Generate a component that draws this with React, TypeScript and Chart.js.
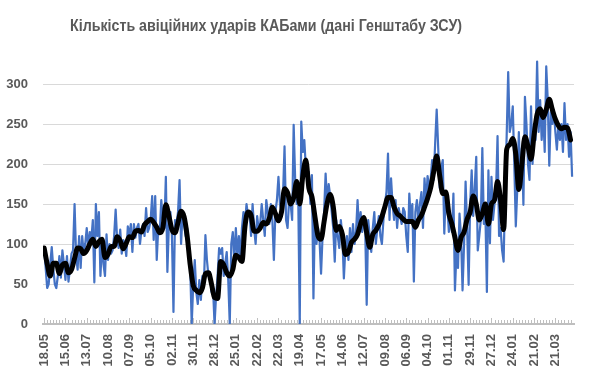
import React, { useEffect, useRef } from 'react';
import { Chart, registerables } from 'chart.js';

Chart.register(...registerables);

const TITLE = 'Кількість авіційних ударів КАБами (дані Генштабу ЗСУ)';

const TICK_LABELS = [
  '18.05', '15.06', '13.07', '10.08', '07.09', '05.10', '02.11', '30.11', '28.12',
  '25.01', '22.02', '22.03', '19.04', '17.05', '14.06', '12.07', '09.08', '06.09',
  '04.10', '01.11', '29.11', '27.12', '24.01', '21.02', '21.03',
];
const LABEL_STEP_DAYS = 28;
const Y_TICKS = [0, 50, 100, 150, 200, 250, 300];

// daily strikes, read every 2nd day
const DAILY_STEP_DAYS = 2;
const DAILY_STRIKES = [
  95, 70, 45, 50, 75, 96, 70, 50, 45, 60,
  85, 58, 92, 75, 55, 85, 53, 70, 88, 92,
  150, 85, 68, 110, 70, 110, 88, 100, 120, 95,
  115, 105, 130, 52, 150, 110, 140, 60, 100, 75,
  60, 112, 80, 100, 88, 92, 110, 143, 105, 95,
  118, 88, 105, 100, 85, 122, 110, 125, 90, 125,
  108, 120, 125, 100, 118, 125, 110, 145, 115, 120,
  130, 160, 105, 160, 80, 120, 115, 155, 130, 120,
  184, 65, 125, 140, 110, 15, 130, 125, 140, 180,
  100, 140, 125, 110, 120, 95, 70, 0, 50, 80,
  40, 25, 55, 30, 60, 48, 111, 80, 60, 65,
  40, 45, 0, 35, 60, 95, 88, 95, 60, 75,
  90, 55, 0, 100, 115, 80, 120, 85, 110, 80,
  120, 140, 125, 150, 135, 140, 110, 150, 120, 100,
  135, 118, 125, 150, 130, 110, 155, 140, 125, 150,
  130, 80, 140, 155, 184, 150, 140, 160, 222, 130,
  120, 155, 150, 130, 249, 180, 150, 160, 0, 253,
  215, 230, 195, 180, 190, 150, 186, 32, 140, 100,
  120, 105, 63, 110, 140, 188, 150, 175, 160, 140,
  120, 78, 130, 110, 95, 130, 110, 57, 95, 110,
  80, 120, 90, 125, 100, 115, 155, 115, 140, 115,
  125, 120, 24, 130, 110, 90, 120, 140, 100, 120,
  135, 110, 100, 130, 150, 165, 213, 130, 182, 150,
  130, 155, 120, 145, 135, 125, 145, 140, 110, 90,
  163, 130, 150, 53, 140, 155, 130, 150, 165, 120,
  182, 150, 185, 170, 180, 205, 180, 226, 268, 220,
  170, 195, 205, 113, 165, 150, 115, 135, 115, 163,
  42, 90, 70, 138, 110, 42, 100, 178, 120, 49,
  150, 192, 135, 170, 209, 92, 110, 130, 220, 125,
  140, 40, 192, 101, 184, 130, 150, 165, 235, 110,
  120, 92, 78, 170, 235, 315, 240, 250, 272, 200,
  122, 170, 240, 170, 220, 149, 284, 250, 200, 180,
  272, 200, 250, 230, 328, 240, 280, 230, 265, 215,
  322, 280, 198, 265, 250, 267, 240, 218, 250, 230,
  250, 215, 276, 230, 250, 209, 240, 184,
];

// moving average (black line), read every 4th day
const AVG_STEP_DAYS = 4;
const MOVING_AVG = [
  95, 75, 60, 76, 76, 63, 74, 76, 64, 68,
  82, 95, 94, 88, 92, 100, 106, 97, 103, 106,
  83, 87, 97, 97, 109, 104, 94, 101, 109, 108,
  116, 117, 115, 124, 128, 131, 127, 121, 114, 120,
  149, 135, 118, 114, 127, 141, 134, 110, 74, 48,
  42, 39, 45, 63, 64, 50, 33, 32, 78, 74,
  64, 60, 68, 86, 83, 78, 122, 140, 136, 116,
  116, 120, 127, 125, 132, 146, 138, 129, 140, 169,
  164, 150, 158, 178, 150, 185, 205, 170, 159, 134,
  110, 106, 128, 151, 162, 147, 117, 122, 112, 87,
  90, 102, 106, 112, 125, 133, 114, 96, 112, 117,
  124, 134, 147, 158, 158, 146, 138, 135, 131, 128,
  128, 128, 121, 130, 136, 146, 157, 170, 190, 210,
  185, 163, 165, 138, 125, 108, 92, 108, 115, 131,
  140, 160, 150, 130, 138, 150, 125, 150, 155, 178,
  155, 118, 218, 224, 232, 212, 168, 200, 234, 222,
  206, 236, 262, 269, 258, 268, 281, 268, 256, 248,
  244, 246, 245, 230,
];

const MINOR_TICK_DAYS = 4;
const LAST_TICK_DAY = 692;
const FONT_FAMILY = '"Liberation Sans", Arial, sans-serif';
const TEXT_COLOR = '#595959';

const titlePlugin = {
  id: 'customTitle',
  afterDraw(chart: any) {
    const ctx = chart.ctx;
    ctx.save();
    ctx.font = `bold 16.5px ${FONT_FAMILY}`;
    const w = ctx.measureText(TITLE).width;
    const sx = Math.min(1, 392 / w);
    ctx.fillStyle = TEXT_COLOR;
    ctx.textAlign = 'center';
    ctx.textBaseline = 'alphabetic';
    ctx.translate(266, 31);
    ctx.scale(sx, 1);
    ctx.fillText(TITLE, 0, 0);
    ctx.restore();
  },
};

const minorTickPlugin = {
  id: 'minorTicks',
  beforeDatasetsDraw(chart: any) {
    const ctx = chart.ctx;
    const xs = chart.scales.x;
    const bottom = chart.chartArea.bottom - 1;
    ctx.save();
    ctx.strokeStyle = '#bfbfbf';
    ctx.lineWidth = 1;
    ctx.beginPath();
    for (let d = 0; d <= LAST_TICK_DAY; d += MINOR_TICK_DAYS) {
      const px = Math.round(xs.getPixelForValue(d)) + 0.5;
      const len = d % LABEL_STEP_DAYS === 0 ? 5 : 3;
      ctx.moveTo(px, bottom);
      ctx.lineTo(px, bottom - len);
    }
    ctx.stroke();
    ctx.restore();
  },
};

export default function App() {
  const ref = useRef<HTMLCanvasElement>(null);

  useEffect(() => {
    document.body.style.margin = '0';
    const dailyData = DAILY_STRIKES.map((v, i) => ({ x: i * DAILY_STEP_DAYS, y: v }));
    const avgData = MOVING_AVG.map((v, i) => ({ x: i * AVG_STEP_DAYS, y: v }));

    const chart = new Chart(ref.current as HTMLCanvasElement, {
      type: 'line',
      data: {
        datasets: [
          {
            label: 'Ковзне середнє',
            data: avgData,
            borderColor: '#000000',
            borderWidth: 5,
            pointRadius: 0,
            tension: 0.4,
            cubicInterpolationMode: 'monotone',
            borderJoinStyle: 'round',
            borderCapStyle: 'round',
            fill: false,
          },
          {
            label: 'Удари КАБами',
            data: dailyData,
            borderColor: '#4472C4',
            borderWidth: 2.2,
            pointRadius: 0,
            tension: 0,
            borderJoinStyle: 'round',
            fill: false,
          },
        ],
      },
      options: {
        responsive: false,
        animation: false,
        events: [],
        layout: { padding: { top: 60, right: 16, left: 0, bottom: 0 } },
        plugins: {
          legend: { display: false },
          title: { display: false },
          tooltip: { enabled: false },
        },
        scales: {
          x: {
            type: 'linear',
            min: -1.5,
            max: 696.5,
            afterBuildTicks: (s: any) => {
              s.ticks = TICK_LABELS.map((_, k) => ({ value: k * LABEL_STEP_DAYS }));
            },
            afterFit: (s: any) => {
              s.height = 52;
            },
            ticks: {
              autoSkip: false,
              minRotation: 90,
              maxRotation: 90,
              padding: 10,
              color: TEXT_COLOR,
              font: { family: FONT_FAMILY, size: 13, weight: 'bold' },
              callback: (v: any) => TICK_LABELS[Math.round(Number(v) / LABEL_STEP_DAYS)] ?? '',
            },
            grid: {
              display: true,
              drawOnChartArea: false,
              drawTicks: false,
              color: 'rgba(0,0,0,0)',
            },
            border: { display: true, color: '#bfbfbf', width: 2 },
          },
          y: {
            min: 0,
            max: 330,
            afterBuildTicks: (s: any) => {
              s.ticks = Y_TICKS.map((v) => ({ value: v }));
            },
            afterFit: (s: any) => {
              s.width = 43;
            },
            ticks: {
              padding: 15,
              color: TEXT_COLOR,
              font: { family: FONT_FAMILY, size: 13, weight: 'bold' },
            },
            grid: {
              drawTicks: false,
              lineWidth: 1,
              color: (c: any) => (c.tick && c.tick.value === 0 ? 'rgba(0,0,0,0)' : '#d9d9d9'),
            },
            border: { display: false },
          },
        },
      } as any,
      plugins: [minorTickPlugin, titlePlugin],
    });
    return () => chart.destroy();
  }, []);

  return (
    <div style={{ width: 590, height: 376 }}>
      <canvas ref={ref} width={590} height={376} style={{ display: 'block', width: 590, height: 376 }} />
    </div>
  );
}
